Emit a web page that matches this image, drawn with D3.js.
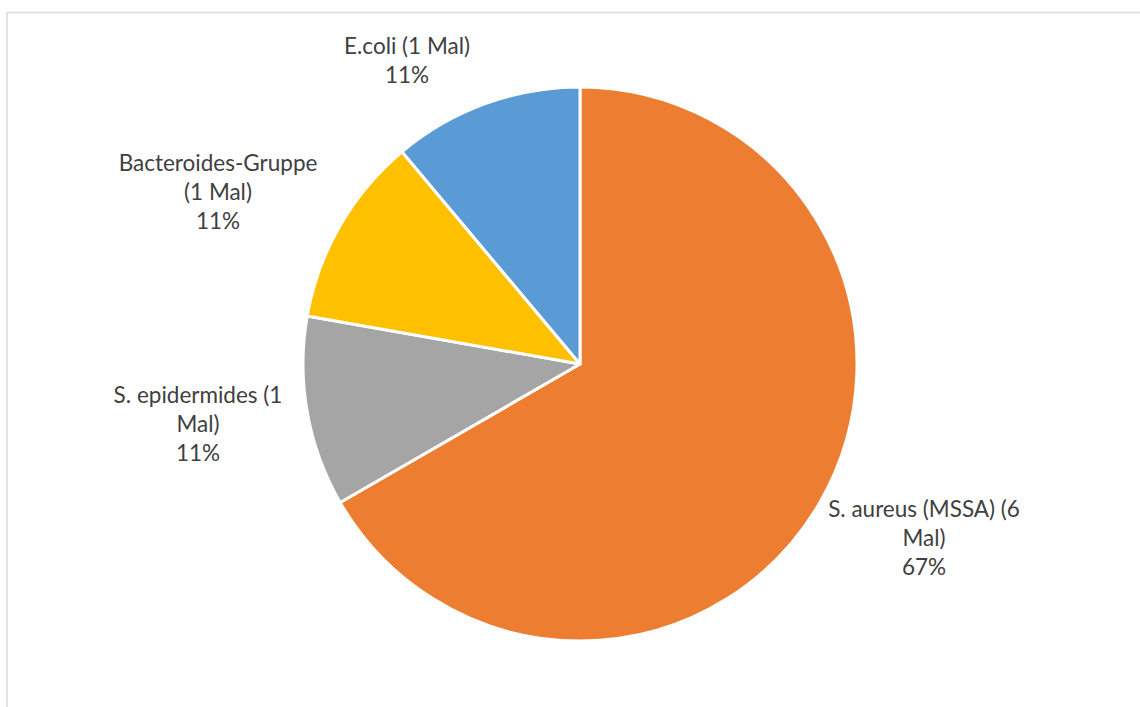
<!DOCTYPE html>
<html>
<head>
<meta charset="utf-8">
<script src="https://cdn.jsdelivr.net/npm/d3@7"></script>
<style>
  html, body { margin: 0; padding: 0; background: #fff; }
  svg { display: block; }
</style>
</head>
<body>
<svg id="chart" width="1140" height="707"></svg>
<script>
// Pathogen counts (number of cases)
const categories = ["S. aureus (MSSA)", "S. epidermides", "Bacteroides-Gruppe", "E.coli"];
const counts = [6, 1, 1, 1];
const colors = ["#ED7D31", "#A5A5A5", "#FFC000", "#5B9BD5"];
// Label text lines as wrapped in the chart
const labelLines = [
  ["S. aureus (MSSA) (6", "Mal)"],
  ["S. epidermides (1", "Mal)"],
  ["Bacteroides-Gruppe", "(1 Mal)"],
  ["E.coli (1 Mal)"]
];
// Label block centres, offset from the pie centre
const labelOffsets = [[344, 174], [-382, 60], [-362, -172], [-173, -303]];

const svg = d3.select("#chart");
const W = 1140, H = 707;

// chart area frame
svg.append("rect")
  .attr("x", 7).attr("y", 12.5)
  .attr("width", W + 10).attr("height", H + 10)
  .attr("fill", "#fff")
  .attr("stroke", "#D9D9D9").attr("stroke-width", 1.5);

const cx = 580, cy = 364, R = 277;
const total = d3.sum(counts);

const pie = d3.pie().sort(null).value(d => d)(counts);
const arc = d3.arc().innerRadius(0).outerRadius(R);

const g = svg.append("g").attr("transform", `translate(${cx},${cy})`);

g.selectAll("path")
  .data(pie)
  .join("path")
  .attr("d", arc)
  .attr("fill", (d, i) => colors[i])
  .attr("stroke", "#fff")
  .attr("stroke-width", 3)
  .attr("stroke-linejoin", "round");

const fmt = d3.format(".0%");
const lineH = 29;
const labels = g.selectAll("text.lbl")
  .data(pie)
  .join("text")
  .attr("class", "lbl")
  .attr("text-anchor", "middle")
  .attr("font-family", "Lato, 'Open Sans', sans-serif")
  .attr("font-size", 22.5)
  .attr("fill", "#404040");

labels.each(function(d, i) {
  const lines = labelLines[i].concat([fmt(d.data / total)]);
  const [ox, oy] = labelOffsets[i];
  const t = d3.select(this);
  const y0 = oy - (lines.length - 1) * lineH / 2;
  lines.forEach((s, k) => {
    t.append("tspan")
      .attr("x", ox)
      .attr("y", y0 + k * lineH)
      .attr("dy", "0.35em")
      .text(s);
  });
});
</script>
</body>
</html>
